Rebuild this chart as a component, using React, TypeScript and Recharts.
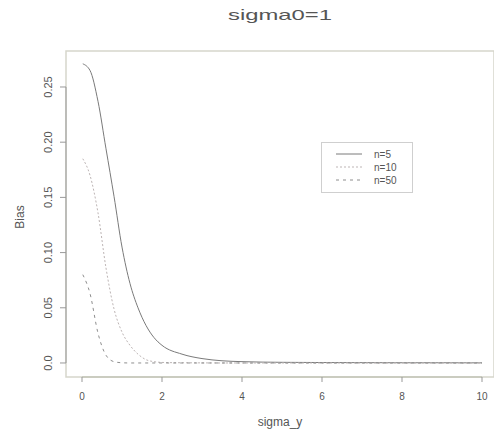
import React from "react"
import { LineChart, Line, XAxis, YAxis, ReferenceLine, ReferenceArea, Label } from "recharts"

const sigmaY = [0.02, 0.2, 0.4, 0.6, 0.8, 1.0, 1.2, 1.4, 1.6, 1.8, 2.0, 2.5, 3.0, 3.5, 4.0, 5.0, 6.0, 7.0, 8.0, 9.0, 10.0]
const biasN5 = [0.271, 0.265, 0.237, 0.194, 0.151, 0.105, 0.072, 0.05, 0.034, 0.023, 0.016, 0.008, 0.004, 0.002, 0.0012, 0.0006, 0.0004, 0.0003, 0.0002, 0.0002, 0.0001]
const biasN10 = [0.185, 0.17, 0.136, 0.086, 0.049, 0.028, 0.016, 0.008, 0.003, 0.0012, 0.0005, 0.0002, 0.0001, 0, 0, 0, 0, 0, 0, 0, 0]
const biasN50 = [0.08, 0.063, 0.027, 0.007, 0.0012, 0.0002, 0, 0, 0, 0, 0, 0, 0, 0, 0, 0, 0, 0, 0, 0, 0]
const xTicks = [0, 2, 4, 6, 8, 10]
const yTicks = [0, 0.05, 0.1, 0.15, 0.2, 0.25]
const yTickLabels = ["0.0", "0.05", "0.10", "0.15", "0.20", "0.25"]
const seriesNames = ["n=5", "n=10", "n=50"]

const data = sigmaY.map((s, i) => ({ s, n5: biasN5[i], n10: biasN10[i], n50: biasN50[i] }))

const font = "'Liberation Sans', Arial, sans-serif"
const textColor = "#555"
const styles = [
  { key: "n5", color: "#7a7a7a", dash: undefined as string | undefined },
  { key: "n10", color: "#bdb5b5", dash: "2 2" },
  { key: "n50", color: "#8e8e8e", dash: "3 4" },
]

function YTick({ x, y, payload }: any) {
  const i = yTicks.indexOf(payload.value)
  return (
    <text x={x - 6} y={y} transform={`rotate(-90 ${x - 6} ${y})`} textAnchor="middle" fontSize={11} fill={textColor} fontFamily={font}>
      {yTickLabels[i]}
    </text>
  )
}

// legend drawn as an overlay so it doesn't eat into the plot area
function LegendBox() {
  return (
    <div style={{ position: "absolute", left: 321, top: 142, width: 90, height: 49, border: "1px solid #cfcfcf", background: "#fff", fontFamily: font, fontSize: 10, color: textColor }}>
      {styles.map((st, i) => (
        <div key={st.key} style={{ position: "absolute", left: 14, top: 5 + i * 13, height: 12, display: "flex", alignItems: "center" }}>
          <svg width={26} height={4}>
            <line x1={0} y1={2} x2={26} y2={2} stroke={st.color} strokeWidth={1} strokeDasharray={st.dash} />
          </svg>
          <span style={{ marginLeft: 12 }}>{seriesNames[i]}</span>
        </div>
      ))}
    </div>
  )
}

export default function App() {
  return (
    <div style={{ position: "absolute", left: 0, top: 0, width: 494, height: 434, background: "#fff" }}>
      <LineChart width={494} height={434} data={data} margin={{ top: 51, right: 0, bottom: 0, left: 0 }}>
        <text x={280} y={20} textAnchor="middle" fontSize={15} fill={textColor} fontFamily={font} textLength={104} lengthAdjust="spacingAndGlyphs">
          sigma0=1
        </text>
        <XAxis
          dataKey="s"
          type="number"
          domain={[-0.4, 10.3]}
          ticks={xTicks}
          allowDataOverflow
          axisLine={false}
          tickLine={{ stroke: "#999" }}
          tickSize={5}
          tickMargin={11}
          height={57}
          tick={{ fontSize: 10, fill: textColor, fontFamily: font }}
        >
          <Label value="sigma_y" position="insideBottom" offset={8} fontSize={12} fill={textColor} fontFamily={font} />
        </XAxis>
        <YAxis
          type="number"
          domain={[-0.0127, 0.2826]}
          ticks={yTicks}
          allowDataOverflow
          axisLine={false}
          tickLine={{ stroke: "#999" }}
          tickSize={6}
          width={66}
          tick={<YTick />}
        >
          <Label
            content={() => (
              <text x={24} y={217} transform="rotate(-90 24 217)" textAnchor="middle" fontSize={12} fill={textColor} fontFamily={font}>
                Bias
              </text>
            )}
          />
        </YAxis>
        <ReferenceArea x1={-0.4} x2={10.3} y1={-0.0127} y2={0.2826} fill="none" stroke="#d6d6cc" strokeWidth={1.5} />
        <ReferenceLine segment={[{ x: -0.4, y: 0 }, { x: -0.4, y: 0.25 }]} stroke="#999" />
        <ReferenceLine segment={[{ x: 0, y: -0.0127 }, { x: 10, y: -0.0127 }]} stroke="#b5b8a8" />
        {styles.map((st, i) => (
          <Line
            key={st.key}
            type="monotone"
            dataKey={st.key}
            name={seriesNames[i]}
            stroke={st.color}
            strokeWidth={1}
            strokeDasharray={st.dash}
            dot={false}
            isAnimationActive={false}
          />
        ))}
      </LineChart>
      <LegendBox />
    </div>
  )
}
